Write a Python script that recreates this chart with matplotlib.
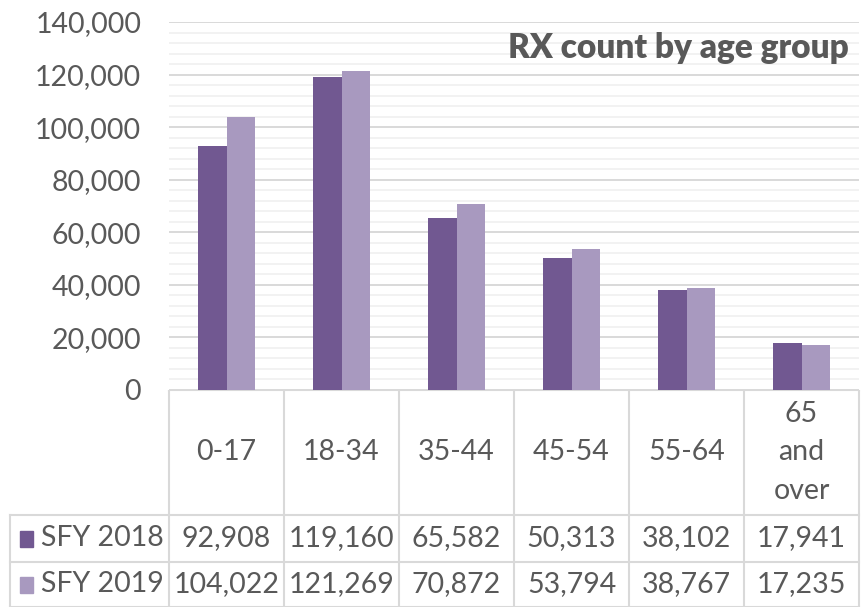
import matplotlib
matplotlib.use("Agg")
import matplotlib.pyplot as plt
from matplotlib.ticker import MultipleLocator, FuncFormatter

categories = ["0-17", "18-34", "35-44", "45-54", "55-64", "65\nand\nover"]
series_names = ["SFY 2018", "SFY 2019"]
sfy2018 = [92908, 119160, 65582, 50313, 38102, 17941]
sfy2019 = [104022, 121269, 70872, 53794, 38767, 17235]
title = "RX count by age group"

plt.rcParams["font.family"] = ["Lato", "DejaVu Sans"]

W, H = 865, 607
fig = plt.figure(figsize=(W / 100, H / 100), dpi=100)
fig.patch.set_facecolor("white")

x_left, x_right = 169, 859
y_top, y_zero = 22, 390
ax = fig.add_axes([x_left / W, 1 - y_zero / H, (x_right - x_left) / W, (y_zero - y_top) / H])

dark = "#715891"
light = "#A899BF"
txtc = "#595959"
fs = 20.5
n = len(categories)
idx = list(range(n))
bw = 0.25
ax.bar([i - bw / 2 for i in idx], sfy2018, width=bw, color=dark, zorder=3)
ax.bar([i + bw / 2 for i in idx], sfy2019, width=bw, color=light, zorder=3)
ax.set_xlim(-0.5, n - 0.5)
ax.set_ylim(0, 140000)
ax.yaxis.set_major_locator(MultipleLocator(20000))
ax.yaxis.set_minor_locator(MultipleLocator(4000))
ax.yaxis.set_major_formatter(FuncFormatter(lambda v, p: f"{int(v):,}"))
ax.grid(axis="y", which="major", color="#D9D9D9", lw=1.4, zorder=0)
ax.grid(axis="y", which="minor", color="#F2F2F2", lw=1.4, zorder=0)
ax.set_xticks([])
ax.tick_params(axis="y", which="both", length=0, labelsize=fs, labelcolor=txtc, pad=20)
for s in ax.spines.values():
    s.set_visible(False)
ax.text(0.985, 0.93, title, transform=ax.transAxes, ha="right", va="center",
        fontsize=24, fontweight="heavy", color=txtc)

# data table
tax = fig.add_axes([0, 0, 1, (H - y_zero) / H])
tax.set_xlim(0, W)
tax.set_ylim(H, y_zero)
tax.axis("off")
colw = (x_right - x_left) / n
lc = "#D9D9D9"
r1, r2 = 515, 562
tax.plot([x_left, x_right], [y_zero, y_zero], color=lc, lw=1.5)
tax.plot([10, x_right], [r1, r1], color=lc, lw=1.5)
tax.plot([10, x_right], [r2, r2], color=lc, lw=1.5)
tax.plot([10, x_right], [H - 0.5, H - 0.5], color=lc, lw=1.5)
tax.plot([10, 10], [r1, H], color=lc, lw=1.5)
for k in range(n + 1):
    xx = x_left + k * colw
    tax.plot([xx, xx], [y_zero, H], color=lc, lw=1.5)
for i, c in enumerate(categories):
    cx = x_left + (i + 0.5) * colw
    tax.text(cx, (y_zero + r1) / 2 + 0, c, ha="center", va="center", fontsize=fs,
             color=txtc, linespacing=1.6)
rows = [(sfy2018, dark, (r1 + r2) / 2), (sfy2019, light, (r2 + H) / 2)]
for (vals, col, yc), name in zip(rows, series_names):
    tax.add_patch(plt.Rectangle((20, yc - 8), 13, 16, color=col))
    tax.text(41, yc, name, ha="left", va="center", fontsize=fs, color=txtc)
    for i, v in enumerate(vals):
        cx = x_left + (i + 0.5) * colw
        tax.text(cx, yc, f"{v:,}", ha="center", va="center", fontsize=fs, color=txtc)

fig.savefig("out.png", dpi=100, facecolor="white")
